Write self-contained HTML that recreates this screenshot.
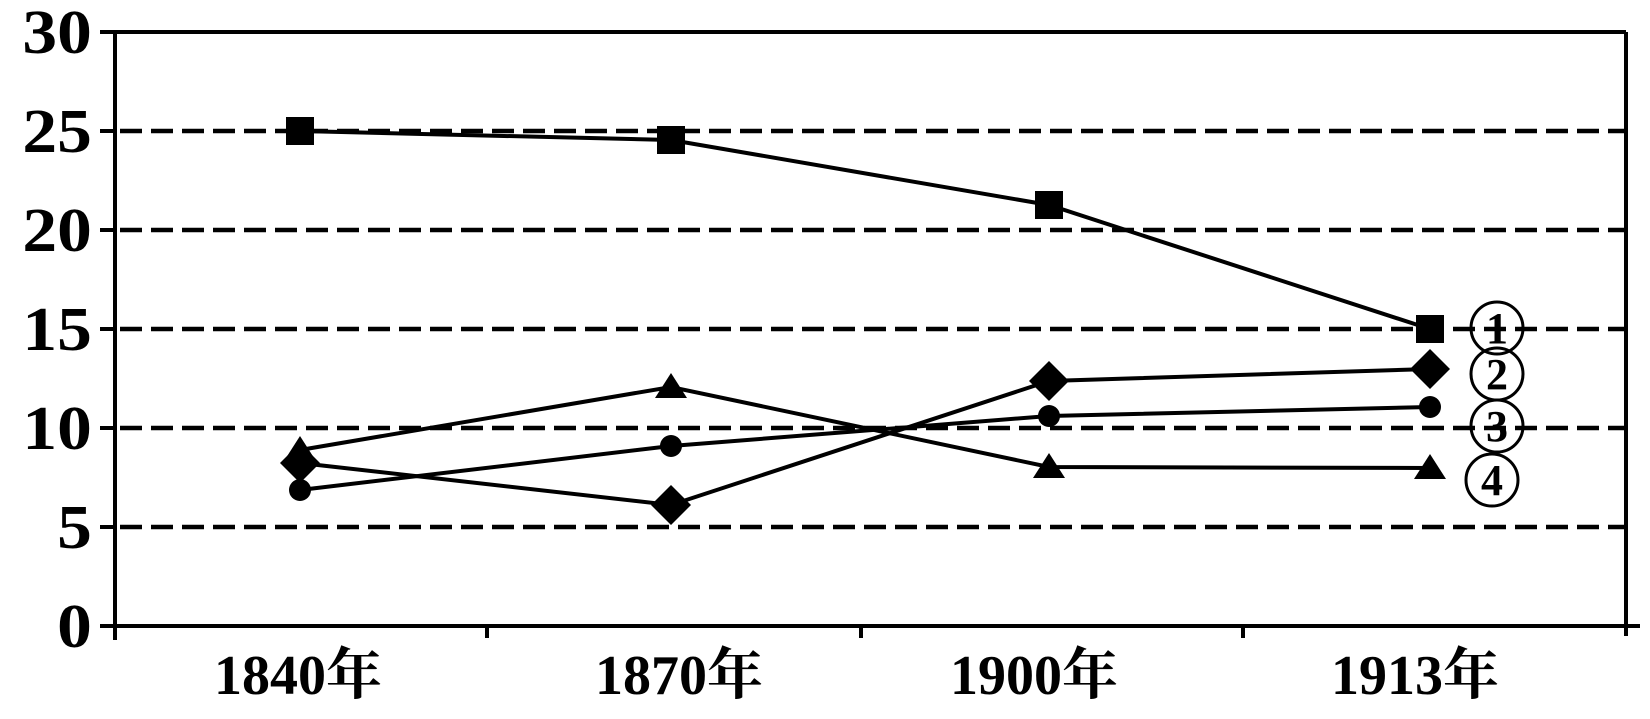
<!DOCTYPE html>
<html><head><meta charset="utf-8"><style>
html,body{margin:0;padding:0;background:#fff;}
svg{display:block;}
text{font-family:"Liberation Serif","Noto Serif CJK SC",serif;font-weight:bold;fill:#000;}
</style></head><body>
<svg width="1650" height="719" viewBox="0 0 1650 719" xmlns="http://www.w3.org/2000/svg">
<g stroke="#000" stroke-width="4" fill="none">
<line x1="100" y1="32" x2="1626" y2="32"/>
<line x1="115" y1="32" x2="115" y2="640"/>
<line x1="1626" y1="32" x2="1626" y2="636"/>
<line x1="100" y1="626" x2="1640" y2="626"/>
<line x1="487" y1="626" x2="487" y2="638"/>
<line x1="861" y1="626" x2="861" y2="638"/>
<line x1="1243" y1="626" x2="1243" y2="638"/>
<line x1="100" y1="131" x2="115" y2="131"/>
<line x1="100" y1="230" x2="115" y2="230"/>
<line x1="100" y1="329" x2="115" y2="329"/>
<line x1="100" y1="428" x2="115" y2="428"/>
<line x1="100" y1="527" x2="115" y2="527"/>
</g>
<g stroke="#000" stroke-width="4.5" stroke-dasharray="22,9" fill="none">
<line x1="120" y1="131" x2="1626" y2="131"/>
<line x1="120" y1="230" x2="1626" y2="230"/>
<line x1="120" y1="329" x2="1626" y2="329"/>
<line x1="120" y1="428" x2="1626" y2="428"/>
<line x1="120" y1="527" x2="1626" y2="527"/>
</g>
<g font-size="62" text-anchor="end" transform="scale(1.12,1)">
<text x="82" y="53">30</text>
<text x="82" y="152">25</text>
<text x="82" y="251">20</text>
<text x="82" y="350">15</text>
<text x="82" y="449">10</text>
<text x="82" y="548">5</text>
<text x="82" y="647">0</text>
</g>
<g font-size="56" text-anchor="middle">
<text x="298" y="694">1840年</text>
<text x="679" y="694">1870年</text>
<text x="1034" y="694">1900年</text>
<text x="1415" y="694">1913年</text>
</g>
<g stroke="#000" stroke-width="4" fill="none">
<polyline points="300,131 671,140 1049,205 1430,329"/>
<polyline points="300,463 671,505 1049,381 1430,369"/>
<polyline points="300,490 671,446 1049,416 1430,407"/>
<polyline points="300,450 671,387 1049,467 1430,468"/>
</g>
<g fill="#000">
<rect x="286" y="117" width="28" height="28"/>
<rect x="657" y="126" width="28" height="28"/>
<rect x="1035" y="191" width="28" height="28"/>
<rect x="1416" y="315" width="28" height="28"/>
<polygon points="300,443 320,463 300,483 280,463"/>
<polygon points="671,485 691,505 671,525 651,505"/>
<polygon points="1049,361 1069,381 1049,401 1029,381"/>
<polygon points="1430,349 1450,369 1430,389 1410,369"/>
<circle cx="300" cy="490" r="11"/>
<circle cx="671" cy="446" r="11"/>
<circle cx="1049" cy="416" r="11"/>
<circle cx="1430" cy="407" r="11"/>
<polygon points="300,436 316,461 284,461"/>
<polygon points="671,373 687,398 655,398"/>
<polygon points="1049,453 1065,478 1033,478"/>
<polygon points="1430,454 1446,479 1414,479"/>
</g>
<g stroke="#000" stroke-width="3" fill="none">
<circle cx="1497" cy="328" r="26"/>
<circle cx="1497" cy="374" r="26"/>
<circle cx="1497" cy="426" r="26"/>
<circle cx="1492" cy="480" r="26"/>
</g>
<g font-size="44" text-anchor="middle">
<text x="1497" y="343">1</text>
<text x="1497" y="389">2</text>
<text x="1497" y="441">3</text>
<text x="1492" y="495">4</text>
</g>
</svg>
</body></html>
